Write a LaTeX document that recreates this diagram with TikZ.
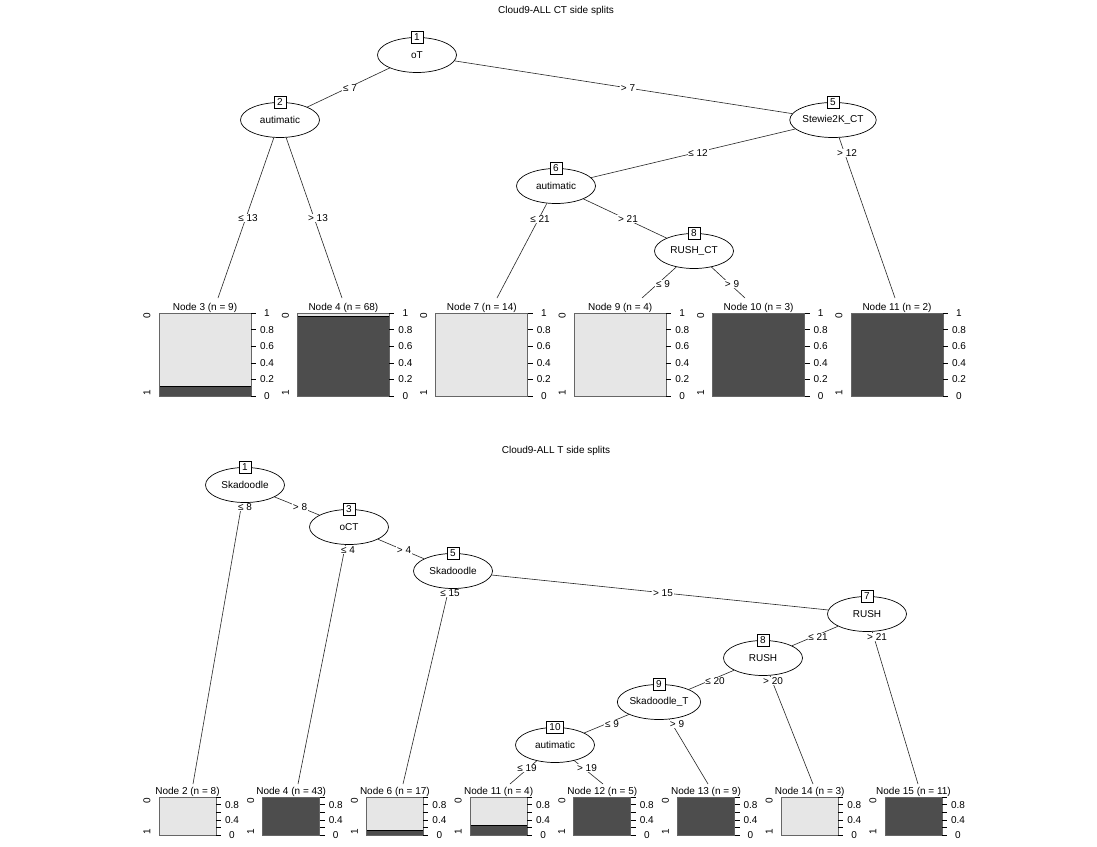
\documentclass[tikz,border=0pt]{standalone}
\usepackage{fontspec}
\setmainfont{Liberation Sans}
\usetikzlibrary{shapes.geometric}
\definecolor{darkbar}{HTML}{4D4D4D}
\definecolor{lightbar}{HTML}{E6E6E6}
\newcommand{\figfont}{\fontsize{10}{12}\selectfont}
\tikzset{
  inode/.style={ellipse, draw=black, fill=white, line width=0.7pt, minimum width=79pt, minimum height=35pt, inner sep=0pt},
  idbox/.style={rectangle, draw=black, fill=white, line width=0.7pt, minimum width=12pt, minimum height=12pt, inner sep=0pt},
  edge/.style={draw=black!85, line width=0.6pt},
  elab/.style={fill=white, inner sep=0.8pt},
  ttl/.style={inner sep=0pt},
  axlab/.style={inner sep=0pt},
  frame/.style={draw=black!60, line width=0.7pt},
  sepline/.style={draw=black, line width=0.7pt},
  tick/.style={draw=black, line width=0.6pt},
}
% #1 name, #2 left x, #3 dark fraction, #4 title
\newcommand{\bigpanel}[4]{%
  \begin{scope}[shift={(#2,313)}]
    \pgfmathsetmacro{\sy}{83*(1-#3)}
    \fill[lightbar] (0,0) rectangle (92,\sy);
    \fill[darkbar] (0,\sy) rectangle (92,83);
    \ifdim #3pt>0pt \ifdim #3pt<1pt \draw[sepline] (0,\sy) -- (92,\sy); \fi\fi
    \draw[frame] (0,0) rectangle (92,83);
    \foreach \v in {0,0.2,0.4,0.6,0.8,1} \draw[tick] (92,{83*(1-\v)}) -- (97,{83*(1-\v)});
    \foreach \v/\t in {0/0,0.2/0.2,0.4/0.4,0.6/0.6,0.8/0.8,1/1} \node[axlab] at (108,{83*(1-\v)}) {\t};
    \node[axlab,rotate=90] at (-12,3) {0};
    \node[axlab,rotate=90] at (-12,80) {1};
    \node[ttl] (#1) at (46,-5.5) {#4};
  \end{scope}}
\newcommand{\smallpanel}[4]{%
  \begin{scope}[shift={(#2,797)}]
    \pgfmathsetmacro{\sy}{38*(1-#3)}
    \fill[lightbar] (0,0) rectangle (57,\sy);
    \fill[darkbar] (0,\sy) rectangle (57,38);
    \ifdim #3pt>0pt \ifdim #3pt<1pt \draw[sepline] (0,\sy) -- (57,\sy); \fi\fi
    \draw[frame] (0,0) rectangle (57,38);
    \foreach \v in {0,0.2,0.4,0.6,0.8,1} \draw[tick] (57,{38*(1-\v)}) -- (62,{38*(1-\v)});
    \foreach \v/\t in {0/0,0.4/0.4,0.8/0.8} \node[axlab] at (73,{38*(1-\v)}) {\t};
    \node[axlab,rotate=90] at (-12,4) {0};
    \node[axlab,rotate=90] at (-12,35) {1};
    \node[ttl] (#1) at (28.5,-5) {#4};
  \end{scope}}
\begin{document}
\begin{tikzpicture}[x=1pt,y=-1pt,font=\figfont]
\useasboundingbox (0,0) rectangle (1097,846);
\fill[white] (0,0) rectangle (1097,846);

% ---------------- top tree ----------------
\node[ttl] (title1) at (556,11) {Cloud9-ALL CT side splits};

\node[inode] (a1) at (417,55) {oT};
\node[idbox] (a1n) at (417,37.5) {1};
\node[inode] (a2) at (280,120) {autimatic};
\node[idbox] (a2n) at (280,102.5) {2};
\node[inode] (a5) at (833,120) {Stewie2K\_CT};
\node[idbox] (a5n) at (833,102.5) {5};
\node[inode] (a6) at (556,186) {autimatic};
\node[idbox] (a6n) at (556,168.5) {6};
\node[inode] (a8) at (694,251) {RUSH\_CT};
\node[idbox] (a8n) at (694,233.5) {8};

\bigpanel{a3}{159}{0.111}{Node 3 (n = 9)}
\bigpanel{a4}{297.4}{0.956}{Node 4 (n = 68)}
\bigpanel{a7}{435.8}{0}{Node 7 (n = 14)}
\bigpanel{a9}{574.2}{0}{Node 9 (n = 4)}
\bigpanel{a10}{712.6}{1}{Node 10 (n = 3)}
\bigpanel{a11}{851}{1}{Node 11 (n = 2)}

\coordinate (ea3) at (218,298);
\coordinate (ea4) at (342,298);
\coordinate (ea7) at (497,298);
\coordinate (ea9) at (642,298);
\coordinate (ea10) at (745,298);
\coordinate (ea11) at (895,298);

\draw[edge] (a1) -- (a2);
\draw[edge] (a1) -- (a5);
\draw[edge] (a2) -- (ea3);
\draw[edge] (a2) -- (ea4);
\draw[edge] (a5) -- (a6);
\draw[edge] (a5) -- (ea11);
\draw[edge] (a6) -- (ea7);
\draw[edge] (a6) -- (a8);
\draw[edge] (a8) -- (ea9);
\draw[edge] (a8) -- (ea10);

\node[elab] (la12) at (350,88) {≤ 7};
\node[elab] (la15) at (628,88) {> 7};
\node[elab] (la23) at (248,218) {≤ 13};
\node[elab] (la24) at (318,218) {> 13};
\node[elab] (la56) at (698,153) {≤ 12};
\node[elab] (la511) at (847,153) {> 12};
\node[elab] (la67) at (540,219) {≤ 21};
\node[elab] (la68) at (628,219) {> 21};
\node[elab] (la89) at (663,284) {≤ 9};
\node[elab] (la810) at (732,284) {> 9};

% ---------------- bottom tree ----------------
\node[ttl] (title2) at (556,451) {Cloud9-ALL T side splits};

\node[inode] (b1) at (245,485) {Skadoodle};
\node[idbox] (b1n) at (245,467.5) {1};
\node[inode] (b3) at (349,527) {oCT};
\node[idbox] (b3n) at (349,509.5) {3};
\node[inode] (b5) at (453,571) {Skadoodle};
\node[idbox] (b5n) at (453,553.5) {5};
\node[inode] (b7) at (867,614) {RUSH};
\node[idbox] (b7n) at (867,596.5) {7};
\node[inode] (b8) at (763,658) {RUSH};
\node[idbox] (b8n) at (763,640.5) {8};
\node[inode] (b9) at (659,702) {Skadoodle\_T};
\node[idbox] (b9n) at (659,684.5) {9};
\node[inode] (b10) at (555,745) {autimatic};
\node[idbox, minimum width=17pt] (b10n) at (555,727.5) {10};

\smallpanel{b2}{159}{0}{Node 2 (n = 8)}
\smallpanel{b4}{262.7}{1}{Node 4 (n = 43)}
\smallpanel{b6}{366.4}{0.118}{Node 6 (n = 17)}
\smallpanel{b11}{470.1}{0.25}{Node 11 (n = 4)}
\smallpanel{b12}{573.8}{1}{Node 12 (n = 5)}
\smallpanel{b13}{677.5}{1}{Node 13 (n = 9)}
\smallpanel{b14}{781.2}{0}{Node 14 (n = 3)}
\smallpanel{b15}{885}{1}{Node 15 (n = 11)}

\coordinate (eb2) at (193,784);
\coordinate (eb4) at (298,784);
\coordinate (eb6) at (403,784);
\coordinate (eb11) at (510,784);
\coordinate (eb12) at (603,784);
\coordinate (eb13) at (708,784);
\coordinate (eb14) at (813,784);
\coordinate (eb15) at (918,784);

\draw[edge] (b1) -- (eb2);
\draw[edge] (b1) -- (b3);
\draw[edge] (b3) -- (eb4);
\draw[edge] (b3) -- (b5);
\draw[edge] (b5) -- (eb6);
\draw[edge] (b5) -- (b7);
\draw[edge] (b7) -- (b8);
\draw[edge] (b7) -- (eb15);
\draw[edge] (b8) -- (b9);
\draw[edge] (b8) -- (eb14);
\draw[edge] (b9) -- (b10);
\draw[edge] (b9) -- (eb13);
\draw[edge] (b10) -- (eb11);
\draw[edge] (b10) -- (eb12);

\node[elab] (lb12) at (245,507) {≤ 8};
\node[elab] (lb13) at (300,507) {> 8};
\node[elab] (lb34) at (348,550) {≤ 4};
\node[elab] (lb35) at (404,550) {> 4};
\node[elab] (lb56) at (450,593) {≤ 15};
\node[elab] (lb57) at (663,593) {> 15};
\node[elab] (lb78) at (818,637) {≤ 21};
\node[elab] (lb715) at (877,637) {> 21};
\node[elab] (lb89) at (715,681) {≤ 20};
\node[elab] (lb814) at (773,681) {> 20};
\node[elab] (lb910) at (612,724) {≤ 9};
\node[elab] (lb913) at (677,724) {> 9};
\node[elab] (lb1011) at (527,768) {≤ 19};
\node[elab] (lb1012) at (587,768) {> 19};
\end{tikzpicture}
\end{document}
